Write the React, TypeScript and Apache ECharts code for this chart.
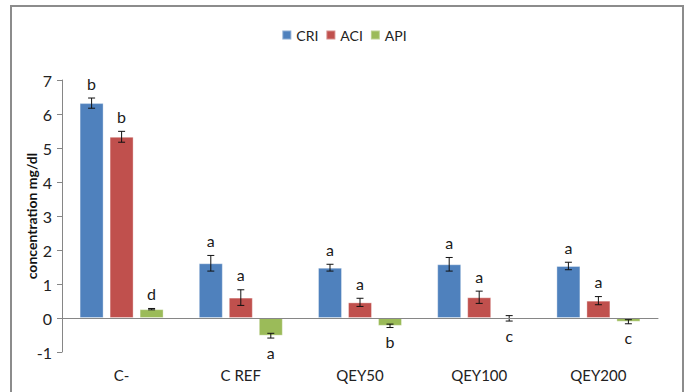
import React, { useEffect, useRef } from "react";
import * as echarts from "echarts";

const categories = ["C-", "C REF", "QEY50", "QEY100", "QEY200"];
const seriesNames = ["CRI", "ACI", "API"];
const criValues = [6.32, 1.61, 1.48, 1.58, 1.53];
const aciValues = [5.33, 0.6, 0.46, 0.61, 0.51];
const apiValues = [0.26, -0.52, -0.23, -0.01, -0.11];
const criErrors = [0.15, 0.23, 0.1, 0.2, 0.11];
const aciErrors = [0.16, 0.23, 0.12, 0.18, 0.12];
const apiErrors = [0.02, 0.07, 0.05, 0.08, 0.06];
const criLetters = ["b", "a", "a", "a", "a"];
const aciLetters = ["b", "a", "a", "a", "a"];
const apiLetters = ["d", "a", "b", "c", "c"];
const yTicks = [-1, 0, 1, 2, 3, 4, 5, 6, 7];

const colors = ["#4F81BD", "#C0504D", "#9BBB59"];
const FONT = "Lato, 'Open Sans', sans-serif";
const BAR_W = 24;
const BAR_GAP = 6;

export default function App() {
  const ref = useRef<HTMLDivElement>(null);
  useEffect(() => {
    if (!ref.current) return;
    const chart = echarts.init(ref.current, null, { renderer: "svg" });
    const values = [criValues, aciValues, apiValues];
    const errors = [criErrors, aciErrors, apiErrors];
    const letters = [criLetters, aciLetters, apiLetters];

    const barSeries = seriesNames.map((name, i) => ({
      name,
      type: "bar",
      data: values[i],
      barWidth: BAR_W,
      barGap: (BAR_GAP / BAR_W) * 100 + "%",
      itemStyle: { color: colors[i], borderColor: "rgba(255,255,255,0.35)", borderWidth: 1 },
      z: 2,
    }));

    const errSeries = seriesNames.map((name, i) => ({
      name: name + "_err",
      type: "custom",
      z: 5,
      silent: true,
      data: values[i].map((v, j) => [j, v, errors[i][j]]),
      encode: { x: 0, y: 1 },
      renderItem: (params: any, api: any) => {
        const cat = api.value(0);
        const v = api.value(1);
        const e = api.value(2);
        const offset = (i - 1) * (BAR_W + BAR_GAP);
        const x = api.coord([cat, v])[0] + offset;
        const top = api.coord([cat, v + e])[1];
        const bot = api.coord([cat, v - e])[1];
        const ly = v >= 0 ? top - 15 : bot + 14;
        const st = { stroke: "#111", lineWidth: 1 };
        return {
          type: "group",
          children: [
            { type: "line", shape: { x1: x, y1: top, x2: x, y2: bot }, style: st },
            { type: "line", shape: { x1: x - 3.5, y1: top, x2: x + 3.5, y2: top }, style: st },
            { type: "line", shape: { x1: x - 3.5, y1: bot, x2: x + 3.5, y2: bot }, style: st },
            {
              type: "text",
              x,
              y: ly,
              style: {
                text: letters[i][params.dataIndex],
                fill: "#1a1a1a",
                font: "16px " + FONT,
                align: "center",
                verticalAlign: "middle",
              },
            },
          ],
        };
      },
    }));

    chart.setOption({
      animation: false,
      backgroundColor: "#fff",
      graphic: [
        {
          type: "rect",
          shape: { x: 11, y: 6, width: 672, height: 420 },
          style: { fill: "none", stroke: "#8c8c8c", lineWidth: 2 },
          silent: true,
        },
      ],
      legend: {
        data: seriesNames,
        top: 23,
        left: "center",
        icon: "rect",
        itemWidth: 9,
        itemHeight: 9,
        itemGap: 7,
        textStyle: { fontSize: 14, fontFamily: FONT, color: "#222" },
      },
      grid: { left: 62, right: 30, top: 80, bottom: 40, containLabel: false },
      xAxis: {
        type: "category",
        data: categories,
        axisLine: { onZero: true, lineStyle: { color: "#868686", width: 1 } },
        axisTick: { show: false },
        axisLabel: { margin: 15, fontSize: 15, fontFamily: FONT, color: "#222" },
        z: 10,
      },
      yAxis: {
        type: "value",
        min: yTicks[0],
        max: yTicks[yTicks.length - 1],
        interval: 1,
        name: "concentration mg/dl",
        nameLocation: "middle",
        nameGap: 24,
        nameMoveOverlap: false,
        nameTextStyle: { fontSize: 14, fontWeight: "bold", fontFamily: FONT, color: "#111" },
        axisLine: { show: true, lineStyle: { color: "#868686" } },
        axisTick: { show: true, length: 5, lineStyle: { color: "#868686" } },
        splitLine: { show: false },
        axisLabel: { margin: 10, fontSize: 16, fontFamily: FONT, color: "#222" },
      },
      series: [...barSeries, ...errSeries],
    });
    return () => chart.dispose();
  }, []);
  return (
    <div
      ref={ref}
      style={{ position: "absolute", left: 0, top: 0, width: 688, height: 392 }}
    />
  );
}
